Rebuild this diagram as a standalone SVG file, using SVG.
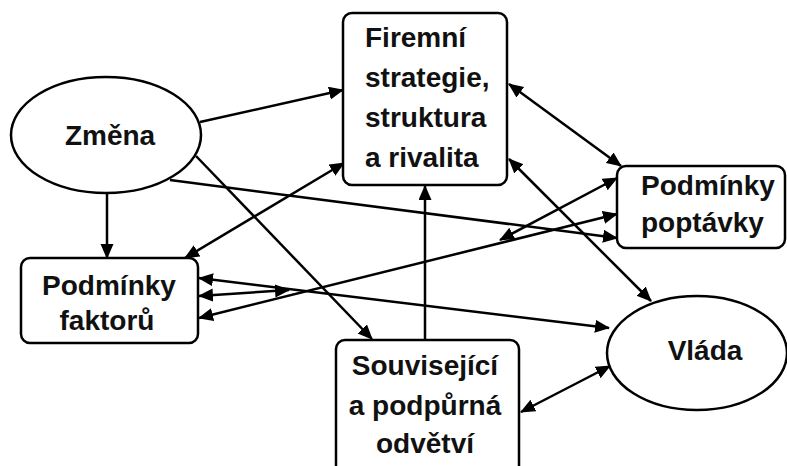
<svg xmlns="http://www.w3.org/2000/svg" width="787" height="466" viewBox="0 0 787 466">
  <style>
    .shape { fill: #ffffff; stroke: #000000; stroke-width: 2.5; }
    .label { font-family: "Liberation Sans", Arial, sans-serif; font-weight: bold; font-size: 28px; fill: #111111; }
    .mid { text-anchor: middle; }
    .edge { fill: none; stroke: #000000; stroke-width: 2.5; }
    .one { marker-end: url(#arrow); }
    .two { marker-start: url(#arrow); marker-end: url(#arrow); }
  </style>
  <defs>
    <marker id="arrow" markerUnits="userSpaceOnUse" markerWidth="16" markerHeight="14" refX="14" refY="6.5" orient="auto-start-reverse">
      <path d="M0,0 L15,6.5 L0,13 z" fill="#000000"/>
    </marker>
  </defs>
  <rect width="787" height="466" fill="#ffffff"/>

  <!-- connectors -->
  <g id="connectors">
    <path class="edge one" d="M200,122 L343,90"/>
    <path class="edge one" d="M107,193 L107,258"/>
    <path class="edge one" d="M170,180 L617,238"/>
    <path class="edge one" d="M196,156 L372,339"/>
    <path class="edge one" d="M425,340 L425,186"/>
    <path class="edge two" d="M344,163 L185,258"/>
    <path class="edge two" d="M509,84 L621,166"/>
    <path class="edge two" d="M509,159 L651,301"/>
    <path class="edge two" d="M199,278 L609,328"/>
    <path class="edge two" d="M199,296 L289,290"/>
    <path class="edge two" d="M199,318 L617,214"/>
    <path class="edge two" d="M617,178 L500,240"/>
    <path class="edge two" d="M521,412 L610,366"/>
  </g>

  <g id="zmena">
    <ellipse class="shape" cx="106" cy="135" rx="95" ry="58"/>
    <text class="label mid" x="110" y="145">Změna</text>
  </g>

  <g id="firemni">
    <rect class="shape" x="343" y="13" width="164" height="172" rx="9"/>
    <text class="label" x="365" y="47">Firemní</text>
    <text class="label" x="365" y="87">strategie,</text>
    <text class="label" x="365" y="127">struktura</text>
    <text class="label" x="365" y="167">a rivalita</text>
  </g>

  <g id="poptavka">
    <rect class="shape" x="617" y="166" width="168" height="82" rx="9"/>
    <text class="label" x="641" y="195">Podmínky</text>
    <text class="label" x="641" y="232">poptávky</text>
  </g>

  <g id="faktory">
    <rect class="shape" x="21" y="258" width="177" height="85" rx="9"/>
    <text class="label mid" x="109" y="295">Podmínky</text>
    <text class="label mid" x="107" y="330">faktorů</text>
  </g>

  <g id="vlada">
    <ellipse class="shape" cx="697" cy="353" rx="90" ry="57"/>
    <text class="label mid" x="705" y="360">Vláda</text>
  </g>

  <g id="souvisejici">
    <rect class="shape" x="336" y="340" width="183" height="140" rx="9"/>
    <text class="label mid" x="425" y="375">Související</text>
    <text class="label mid" x="425" y="415">a podpůrná</text>
    <text class="label mid" x="425" y="453">odvětví</text>
  </g>
</svg>
